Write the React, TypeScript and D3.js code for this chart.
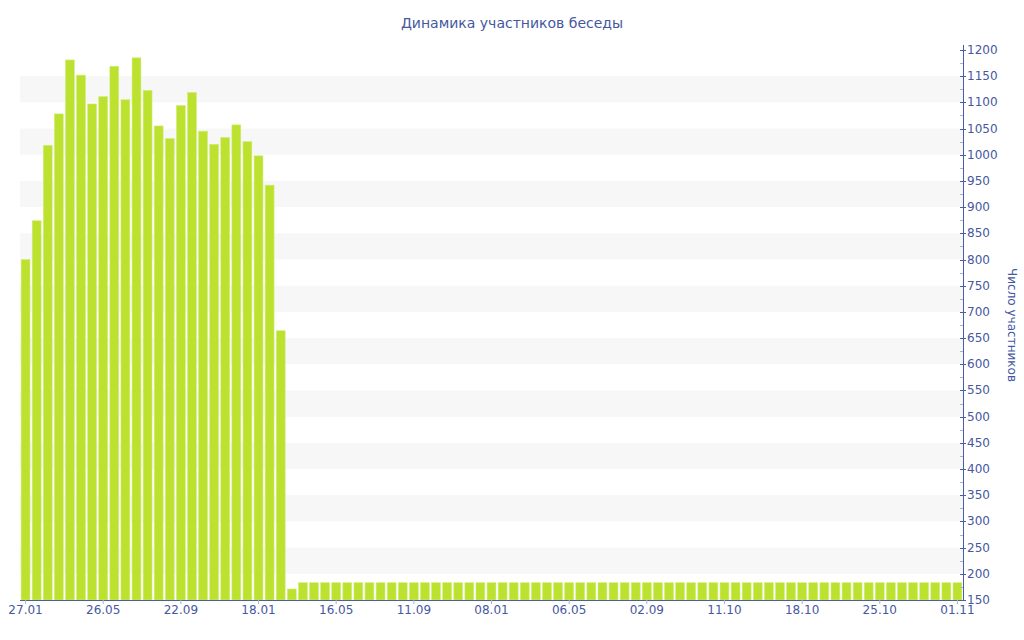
import React from "react";
import * as d3 from "d3";

const firstValues = [800, 874, 1018, 1078, 1181, 1152, 1097, 1111, 1169, 1105, 1185, 1123, 1055, 1031, 1094, 1119, 1045, 1020, 1033, 1057, 1025, 998, 942, 664, 171];
const flatValue = 183;
const flatCount = 60;
const values: number[] = [...firstValues, ...Array.from({ length: flatCount }, () => flatValue)];
const categories: number[] = values.map((_, i) => i);
const tickLabels = ["27.01", "26.05", "22.09", "18.01", "16.05", "11.09", "08.01", "06.05", "02.09", "11.10", "18.10", "25.10", "01.11"];
const tickEvery = 7;
const yMin = 150;
const yMax = 1200;
const title = "Динамика участников беседы";
const yTitle = "Число участников";

export default function App() {
  const W = 1024, H = 640;
  const left = 20, right = 963, top = 50, bottom = 600;
  const x = d3.scaleBand<number>().domain(categories).range([left, right]).paddingInner(0.2).paddingOuter(0.1);
  const y = d3.scaleLinear().domain([yMin, yMax]).range([bottom, top]);
  const major = d3.range(yMin, yMax + 1, 50);
  const minor = d3.range(yMin + 25, yMax, 50);
  const bands = d3.range(200, yMax, 100).filter((v) => v + 50 <= yMax);
  const axisColor = "#4a5ea6";
  const textColor = "#4558a0";
  const font = "Verdana, 'DejaVu Sans', sans-serif";
  return (
    <svg width={W} height={H} style={{ position: "absolute", left: 0, top: 0 }} fontFamily={font}>
      <rect width={W} height={H} fill="#fff" />
      {bands.map((v) => (
        <rect key={v} x={left} y={y(v + 50)} width={right - left} height={y(v) - y(v + 50)} fill="#f7f7f7" />
      ))}
      {values.map((v, i) => (
        <rect key={i} x={x(i)!} y={y(v)} width={x.bandwidth()} height={bottom - y(v)} fill="#bde12f" stroke="#d2ec7c" strokeWidth={0.6} />
      ))}
      <line x1={left} x2={right} y1={bottom + 0.5} y2={bottom + 0.5} stroke={axisColor} />
      {tickLabels.map((t, k) => {
        const cx = x(k * tickEvery)! + x.bandwidth() / 2;
        return (
          <g key={t + k}>
            <line x1={cx} x2={cx} y1={bottom} y2={bottom + 4} stroke="#a9b3d3" />
            <text x={cx} y={bottom + 14} textAnchor="middle" fontSize={12} fill={textColor}>{t}</text>
          </g>
        );
      })}
      <line x1={right + 0.5} x2={right + 0.5} y1={45} y2={bottom} stroke={axisColor} />
      {minor.map((v) => (
        <line key={v} x1={right - 3} x2={right} y1={Math.round(y(v)) + 0.5} y2={Math.round(y(v)) + 0.5} stroke="#aab2cc" />
      ))}
      {major.map((v) => (
        <g key={v}>
          <line x1={right - 3} x2={right + 3} y1={Math.round(y(v)) + 0.5} y2={Math.round(y(v)) + 0.5} stroke={axisColor} />
          <text x={right + 4} y={y(v) + 4} fontSize={12} fill={textColor}>{v}</text>
        </g>
      ))}
      <text x={512} y={28} textAnchor="middle" fontSize={14} fill={textColor}>{title}</text>
      <text transform={`translate(1008, ${(top + bottom) / 2}) rotate(90)`} textAnchor="middle" fontSize={12} fill={textColor}>{yTitle}</text>
    </svg>
  );
}
